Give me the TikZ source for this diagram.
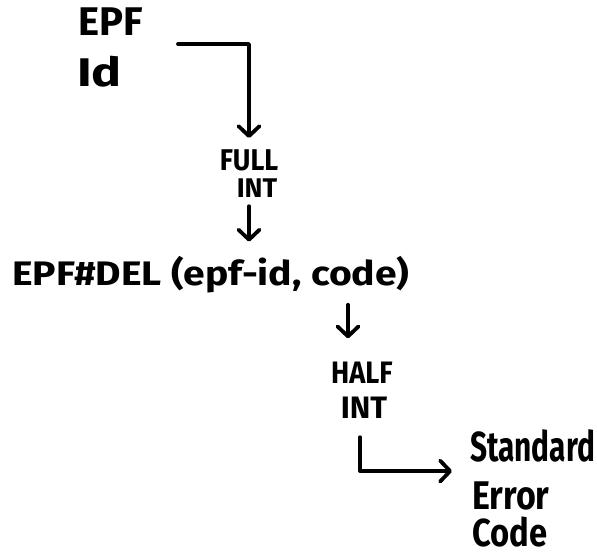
\documentclass[tikz,border=0pt]{standalone}
\usepackage{fontspec}
\setmainfont{Fira Sans}
\usetikzlibrary{arrows.meta}
\newcommand{\widen}[2]{\scalebox{#1}[1]{#2}}
\tikzset{
  ink/.style={line width=3.8pt, line cap=round, line join=round},
  arr/.style={ink, -{Straight Barb[length=10pt,width=21pt,line cap=round,line join=round]}},
  lbl/.style={inner sep=0pt},
  fs/.style={font=\bfseries\fontsize{#1}{#1}\selectfont},
}
\begin{document}
\begin{tikzpicture}[x=1pt,y=-1pt]
  \useasboundingbox (0,0) rectangle (597,557);
  % source identifier
  \node[lbl, fs=40, anchor=base west] (epf) at (78,35) {EPF};
  \node[lbl, fs=40, anchor=base west] (id) at (77,86) {\widen{1.25}{Id}};
  \coordinate (s1) at (178,44);
  % full interface
  \node[lbl, fs=30, anchor=base] (full) at (249,170) {\widen{0.9}{FULL}};
  \node[lbl, fs=27, anchor=base] (int1) at (257,197) {INT};
  % the call
  \node[lbl, fs=34, anchor=base west] (del) at (12,285) {\widen{1.15}{EPF\#DEL (epf-id, code)}};
  % half interface
  \node[lbl, fs=31, anchor=base] (half) at (362,383) {\widen{0.88}{HALF}};
  \node[lbl, fs=31, anchor=base] (int2) at (364,418) {INT};
  % result
  \node[lbl, fs=42, anchor=base west] (std) at (470,461) {\widen{0.71}{Standard}};
  \node[lbl, fs=40, anchor=base west] (err) at (472,509) {\widen{0.85}{Error}};
  \node[lbl, fs=39, anchor=base west] (code) at (472,546) {\widen{0.84}{Code}};
  % connectors
  \draw[arr, shorten >=11pt] (s1) -| (full.north);
  \coordinate (f1) at (int1.south -| full.north);
  \coordinate (f2) at (f1 |- del.north);
  \draw[arr, shorten <=9pt, shorten >=14pt] (f1) -- (f2);
  \coordinate (h1) at ([xshift=-14pt]half.north |- del.south);
  \coordinate (h2) at ([xshift=-14pt]half.north);
  \draw[arr, shorten <=12pt, shorten >=23pt] (h1) -- (h2);
  \coordinate (c4a) at ([xshift=-4pt,yshift=-19pt]int2.south);
  \coordinate (c4b) at ([xshift=-20pt,yshift=10pt]err.north west);
  \draw[arr] (c4a) |- (c4b);
\end{tikzpicture}
\end{document}
